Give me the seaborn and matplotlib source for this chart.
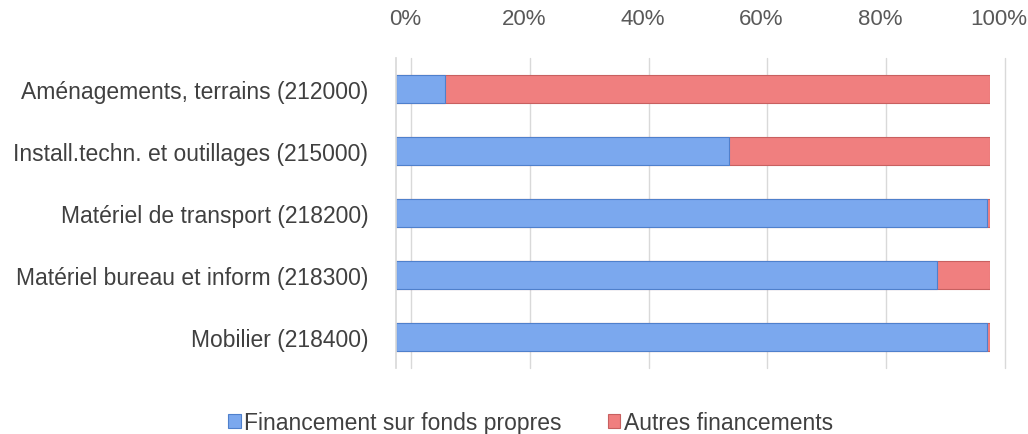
import pandas as pd
import seaborn as sns
import matplotlib.pyplot as plt
from matplotlib.ticker import PercentFormatter
from matplotlib.transforms import ScaledTranslation

categories = [
    "Aménagements, terrains (212000)",
    "Install.techn. et outillages (215000)",
    "Matériel de transport (218200)",
    "Matériel bureau et inform (218300)",
    "Mobilier (218400)",
]
fonds_propres = [8.2, 56.0, 99.5, 91.0, 99.5]
autres = [91.8, 44.0, 0.5, 9.0, 0.5]
x_ticks = [0, 20, 40, 60, 80, 100]

sns.set_theme(style="white")
plt.rcParams["font.family"] = ["Liberation Sans", "DejaVu Sans"]

df = pd.DataFrame({"categorie": categories, "propres": fonds_propres, "autres": autres})
df["total"] = df["propres"] + df["autres"]

fig = plt.figure(figsize=(10.28, 4.35), dpi=100)
ax = fig.add_axes([396 / 1028, 1 - 369 / 435, (990 - 396) / 1028, (369 - 59) / 435])

bleu = "#7ba8ee"
rouge = "#f07f7f"
sns.barplot(data=df, x="total", y="categorie", color=rouge, width=0.46, saturation=1,
            edgecolor="#c86060", linewidth=0.8, ax=ax, label="Autres financements")
sns.barplot(data=df, x="propres", y="categorie", color=bleu, width=0.46, saturation=1,
            edgecolor="#4f80cc", linewidth=0.8, ax=ax, label="Financement sur fonds propres")
if ax.get_legend() is not None:
    ax.get_legend().remove()

# grille "3D" : murs du fond decales vers la droite
decal = ScaledTranslation(15 / 100, 0, fig.dpi_scale_trans)
for t in x_ticks:
    ligne = ax.axvline(t, color="#d9d9d9", linewidth=1, zorder=0, clip_on=False)
    ligne.set_transform(ligne.get_transform() + decal)

ax.set_xlim(0, 100)
ax.set_xticks(x_ticks)
ax.xaxis.set_major_formatter(PercentFormatter(decimals=0))
ax.xaxis.tick_top()
ax.tick_params(axis="x", length=0, pad=21, labelsize=16, labelcolor="#595959")
ax.tick_params(axis="y", length=0, pad=20, labelsize=16.5, labelcolor="#404040")
decal_txt = ScaledTranslation(9 / 100, 0, fig.dpi_scale_trans)
for lab in ax.get_xticklabels():
    lab.set_transform(lab.get_transform() + decal_txt)
ax.set_xlabel("")
ax.set_ylabel("")
for s in ax.spines.values():
    s.set_visible(False)
ax.spines["left"].set_visible(True)
ax.spines["left"].set_color("#d9d9d9")

handles, labels = ax.get_legend_handles_labels()
order = [labels.index("Financement sur fonds propres"), labels.index("Autres financements")]
fig.legend([handles[i] for i in order], [labels[i] for i in order],
           loc="center", bbox_to_anchor=(0.516, 1 - 424 / 435), ncol=2, frameon=False,
           fontsize=16.5, handlelength=0.55, handleheight=0.55, handletextpad=0.15,
           columnspacing=2.0, labelcolor="#404040")

fig.savefig("out.png", dpi=100)
